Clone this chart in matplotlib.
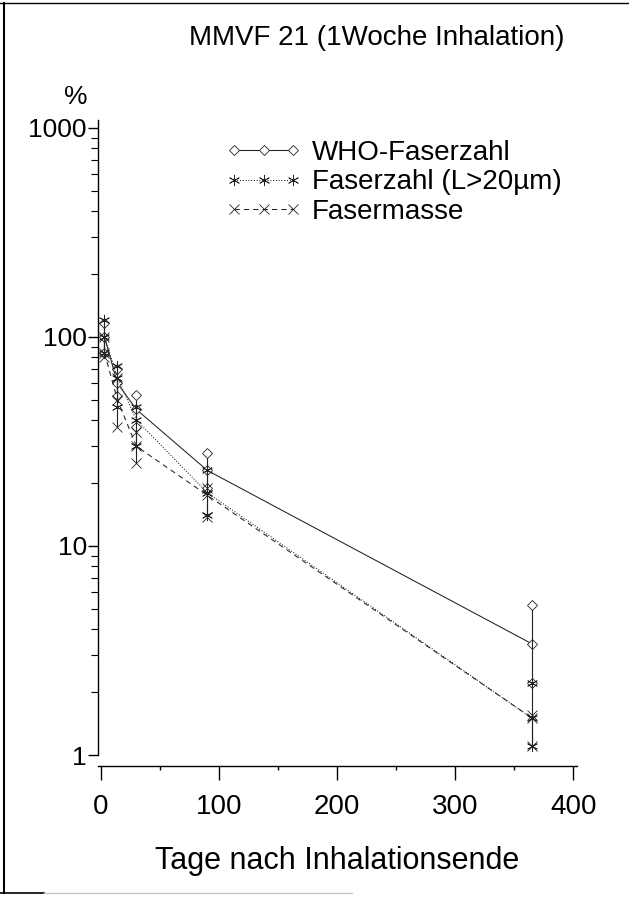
import numpy as np
import matplotlib
matplotlib.use("Agg")
import matplotlib.pyplot as plt
from matplotlib.lines import Line2D
from matplotlib.ticker import FixedLocator, LogLocator, NullFormatter

plt.rcParams['font.family'] = ['Liberation Sans', 'DejaVu Sans']

# Tage nach Inhalationsende
tage = [3, 14, 30, 90, 365]

# WHO-Faserzahl (%): Mittelwert, untere und obere Werte
who_mittel = [100, 60, 45, 23, 3.4]
who_min = [84, 52, 37, 19, 2.2]
who_max = [117, 70, 53, 28, 5.2]

# Faserzahl (L>20µm)
lang_mittel = [100, 64, 40, 18, 1.5]
lang_min = [84, 46, 30, 14, 1.1]
lang_max = [120, 73, 46, 23, 2.2]

# Fasermasse
masse_mittel = [84, 50, 30, 17.5, 1.5]
masse_min = [80, 37, 25, 13.8, 1.1]
masse_max = [100, 64, 35, 19, 1.55]

x_ticks = [0, 100, 200, 300, 400]
x_minor = [50, 150, 250, 350]
y_ticks = [1, 10, 100, 1000]
y_labels = ["1", "10", "100", "1000"]

fig = plt.figure(figsize=(6.29, 8.97), dpi=100)
ax = fig.add_axes([98 / 629, 1 - 755 / 897, (577 - 98) / 629, (755 - 120) / 897])

reihen = [
    ("WHO-Faserzahl", who_mittel, who_min, who_max, 'D', '-', 5.5, 'white'),
    ("Faserzahl (L>20µm)", lang_mittel, lang_min, lang_max, (6, 2, 0), ':', 8, 'black'),
    ("Fasermasse", masse_mittel, masse_min, masse_max, 'x', (0, (5, 4)), 7.5, 'black'),
]

handles = []
for name, mittel, unten, oben, marker, ls, ms, fc in reihen:
    ax.plot(tage, mittel, color='#222222', lw=0.75, ls=ls, marker=marker, ms=ms,
            mfc=fc, mec='#222222', mew=0.6)
    # senkrechte Streubreite
    ax.vlines(tage, unten, oben, color='#222222', lw=0.8)
    ax.plot(tage, unten, ls='none', marker=marker, ms=ms, mfc=fc, mec='#222222', mew=0.6)
    ax.plot(tage, oben, ls='none', marker=marker, ms=ms, mfc=fc, mec='#222222', mew=0.6)
    handles.append(Line2D([], [], color='#222222', lw=0.75, ls=ls, marker=marker, ms=ms,
                          mfc=fc, mec='#222222', mew=0.6, label=name))

ax.set_yscale('log')
ax.set_xlim(-2.5, 403)
ax.set_ylim(1, 1092)

ax.spines['top'].set_visible(False)
ax.spines['right'].set_visible(False)
ax.spines['bottom'].set_position(('outward', 8))
for s in ['left', 'bottom']:
    ax.spines[s].set_linewidth(1.0)

ax.yaxis.set_major_locator(FixedLocator(y_ticks))
ax.set_yticklabels(y_labels)
ax.yaxis.set_minor_locator(LogLocator(base=10, subs=np.arange(2, 10)))
ax.yaxis.set_minor_formatter(NullFormatter())
ax.xaxis.set_major_locator(FixedLocator(x_ticks))
ax.xaxis.set_minor_locator(FixedLocator(x_minor))

ax.tick_params(axis='both', which='major', direction='out', length=7, width=1.0,
               labelsize=19, color='black')
ax.tick_params(axis='y', which='major', pad=1)
ax.tick_params(axis='x', which='major', labelsize=20)
ax.tick_params(axis='y', which='minor', direction='out', length=5, width=0.8)
ax.tick_params(axis='x', which='major', length=10, pad=10)
ax.tick_params(axis='x', which='minor', direction='out', length=3, width=1.0)

ax.set_xlabel("Tage nach Inhalationsende", fontsize=22, labelpad=19)
fig.text(76 / 629, 1 - 97 / 897, "%", fontsize=19, ha='center', va='center')
fig.text(377 / 629, 1 - 38 / 897, "MMVF 21 (1Woche Inhalation)", fontsize=20,
         ha='center', va='center')

ax.legend(handles=handles, loc='upper left', bbox_to_anchor=(226 / 629, 1 - 140 / 897),
          bbox_transform=fig.transFigure, frameon=False, fontsize=20, numpoints=3,
          handlelength=2.7, handletextpad=0.4, labelspacing=0.12, borderpad=0,
          borderaxespad=0)

# Rahmen der Abbildung
fig.add_artist(Line2D([4 / 629, 4 / 629], [0.005, 0.997], transform=fig.transFigure,
                      color='black', lw=1.5))
fig.add_artist(Line2D([0, 1], [0.997, 0.997], transform=fig.transFigure,
                      color='black', lw=1.0))
fig.add_artist(Line2D([0, 0.07], [0.005, 0.005], transform=fig.transFigure,
                      color='black', lw=1.2))
fig.add_artist(Line2D([0.07, 0.56], [0.005, 0.005], transform=fig.transFigure,
                      color='#c8c8c8', lw=1.0))

fig.savefig("out.png", dpi=100, facecolor='white')
